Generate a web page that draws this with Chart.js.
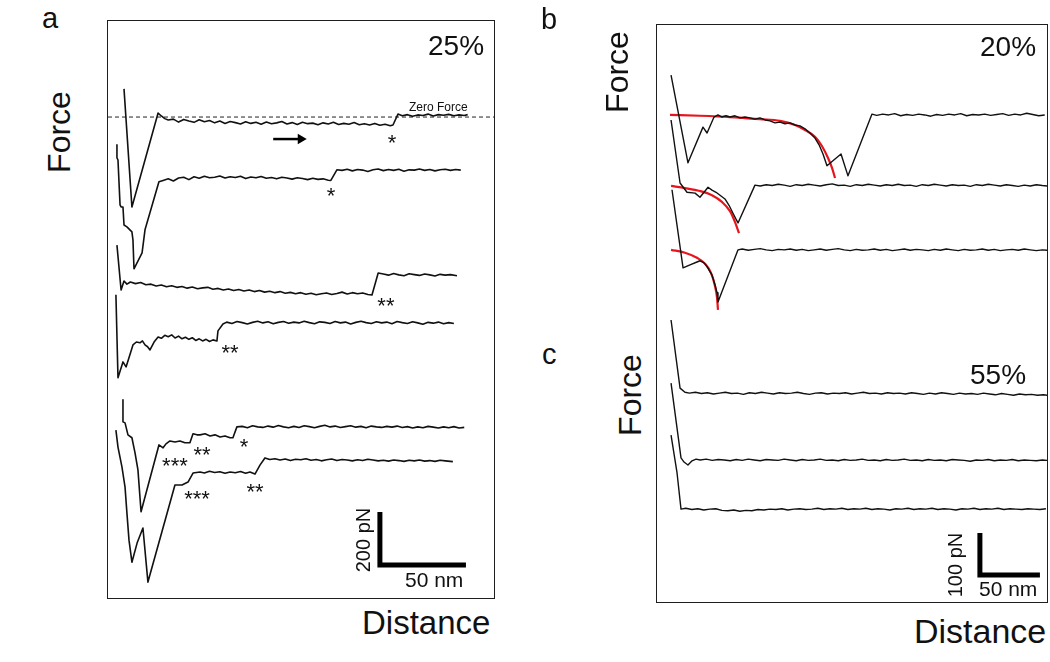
<!DOCTYPE html>
<html>
<head>
<meta charset="utf-8">
<script src="https://cdn.jsdelivr.net/npm/chart.js@4.4.1/dist/chart.umd.min.js"></script>
<style>
  body { margin: 0; background: #fff; font-family: "Liberation Sans", Arial, sans-serif; }
  #page { position: relative; width: 1050px; height: 662px; overflow: hidden; }
  .box { position: absolute; border: 1.5px solid #1e1e1e; }
  .box canvas { display: block; }
  .lbl { position: absolute; line-height: 1; white-space: nowrap; color: #111; }
  .rot { transform: translate(-50%, -50%) rotate(-90deg); }
</style>
</head>
<body>
<div id="page">
  <div class="lbl" style="left:42px;top:4px;font-size:29px">a</div>
  <div class="lbl rot" style="left:59px;top:132px;font-size:32px">Force</div>
  <div class="lbl" style="left:362px;top:606px;font-size:33px">Distance</div>
  <div class="box" style="left:107px;top:20px;width:386px;height:577px">
    <canvas id="chartA" width="386" height="577"></canvas>
  </div>
  <div class="lbl" style="left:428px;top:32px;font-size:28px">25%</div>
  <div class="lbl" style="left:409px;top:101px;font-size:12px">Zero Force</div>
  <div class="lbl rot" style="left:363px;top:540px;font-size:20px">200 pN</div>
  <div class="lbl" style="left:405px;top:569px;font-size:21px">50 nm</div>

  <div class="lbl" style="left:541px;top:5px;font-size:29px">b</div>
  <div class="lbl" style="left:542px;top:340px;font-size:29px">c</div>
  <div class="lbl rot" style="left:617px;top:72px;font-size:32px">Force</div>
  <div class="lbl rot" style="left:630px;top:395px;font-size:32px">Force</div>
  <div class="lbl" style="left:914px;top:614px;font-size:34px">Distance</div>
  <div class="box" style="left:656px;top:24px;width:390px;height:577px">
    <canvas id="chartB" width="390" height="577"></canvas>
  </div>
  <div class="lbl" style="left:980px;top:33px;font-size:28px">20%</div>
  <div class="lbl" style="left:970px;top:361px;font-size:28px">55%</div>
  <div class="lbl rot" style="left:955px;top:565px;font-size:20px">100 pN</div>
  <div class="lbl" style="left:979px;top:578px;font-size:21px">50 nm</div>
</div>
<script>
// force curves, [distance nm, force pN] relative to each curve's own zero

// panel a, 25%
const traceA1 = [[9.3,106],[13.9,-339],[29.1,15],[31,4],[33,-6],[35,-11],
  [38,-8],[41,-19],[44,-9],[47,-15],[50,-20],[53,-10],[56,-18],[59,-13],[62,-22],[65,-15],
  [68,-24],[71,-17],[74,-21],[77,-26],[80,-18],[83,-24],[86,-20],[89,-27],[92,-19],[95,-25],
  [98,-22],[101,-17],[104,-26],[107,-21],[110,-28],[113,-20],[116,-25],[119,-23],[122,-29],[125,-22],
  [128,-26],[131,-20],[134,-28],[137,-24],[140,-27],[143,-21],[146,-29],[149,-25],[152,-30],[155,-24],
  [158,-31],[161,-27],[164,-33],[165.6,-30],[168.5,11],
  [171,5],[174,9],[177,3],[180,8],[183,6],[186,11],[189,4],[192,9],[195,7],[198,10],[201,5],[204,8],[207,6],[209,9]];

const traceA2 = [[5.2,98],[5.2,49],[5.8,41],[7.0,-128],[7.6,-136],[8.7,-136],[9.3,-204],[11.0,-211],[13.9,-230],[14.5,-260],[15.1,-369],[19.8,-309],[21.5,-222],[29.6,-41],
  [32,-36],[35,-30],[38,-38],[41,-27],[44,-24],[47,-33],[50,-22],[53,-28],[56,-20],[59,-26],
  [62,-24],[65,-19],[68,-27],[71,-22],[74,-25],[77,-20],[80,-29],[83,-23],[86,-26],[89,-21],
  [92,-28],[95,-25],[98,-30],[101,-24],[104,-27],[107,-31],[110,-26],[113,-29],[116,-33],[119,-28],
  [122,-32],[125,-30],[128,-35],[129.5,-36],[133,4],
  [136,2],[139,6],[142,0],[145,5],[148,3],[151,-2],[154,4],[157,7],[160,1],[163,5],[166,2],[169,6],
  [172,-1],[175,4],[178,3],[181,7],[184,2],[187,5],[190,0],[193,4],[196,6],[199,2],[202,5],[205,3]];

const traceA3 = [[5.2,109],[7.6,-60],[9.3,-26],[11,-38],
  [13,-30],[16,-36],[19,-32],[22,-40],[25,-38],[28,-45],[31,-41],[34,-48],[37,-44],[40,-50],
  [43,-47],[46,-53],[49,-49],[52,-55],[55,-52],[58,-50],[61,-57],[64,-54],[67,-60],[70,-56],
  [73,-62],[76,-58],[79,-64],[82,-60],[85,-66],[88,-62],[91,-68],[94,-65],[97,-70],[100,-66],
  [103,-72],[106,-69],[109,-74],[112,-70],[115,-76],[118,-72],[121,-78],[124,-74],[127,-71],[130,-77],
  [133,-73],[136,-68],[139,-75],[142,-70],[145,-74],[148,-71],[151,-77],[153.4,-79],[157,4],
  [160,0],[163,-4],[166,2],[169,-3],[172,-6],[175,1],[178,-2],[181,-5],[184,0],[187,-3],[190,-7],
  [193,-1],[196,-4],[199,-2],[202.8,-6]];

const traceA4 = [[4.6,106],[5.8,-207],[8.7,-147],[10.5,-166],[14.5,-83],[16.5,-72],[18.6,-75],[20,-68],
  [21.5,-83],[23,-90],[24.4,-102],[27,-70],[29.1,-53],[31,-58],[33,-47],[35,-52],[37,-45],[39,-57],
  [41,-50],[43,-60],[45,-54],[47,-62],[49,-56],[51,-66],[53,-60],[55,-68],[57,-62],[59,-70],[61,-64],
  [63.3,-68],[63.9,-30],[66.8,-4],
  [69,3],[72,-2],[75,5],[78,1],[81,-4],[84,2],[87,6],[90,0],[93,4],[96,-3],
  [99,2],[102,5],[105,-1],[108,3],[111,0],[114,6],[117,1],[120,-3],[123,4],[126,2],
  [129,-2],[132,5],[135,0],[138,3],[141,-4],[144,2],[147,6],[150,1],[153,-2],[156,4],
  [159,0],[162,3],[165,-3],[168,5],[171,1],[174,-2],[177,4],[180,0],[183,-5],[186,2],
  [189,-1],[192,3],[195,-3],[198,1],[201,-2]];

const traceA5 = [[8.7,102],[8.7,19],[9.9,15],[11.6,-30],[13.9,-41],[15.7,-98],[17.4,-162],[19.2,-320],
  [29.6,-68],[32.0,-79],[33.7,-64],[36.0,-53],[38.9,-57],[41.8,-53],[44.7,-60],[47.6,-60],[49.4,-26],
  [51.7,-30],[53.5,-30],[56.4,-26],[59.3,-34],[62.2,-30],[65.1,-38],[68.0,-34],[70.9,-41],[72.6,-41],[74.9,0],
  [78,2],[81,-3],[84,4],[87,0],[90,-2],[93,3],[96,-1],[99,5],[102,0],[105,-3],
  [108,2],[111,-2],[114,4],[117,1],[120,-3],[123,2],[126,6],[129,0],[132,3],[135,-2],
  [138,1],[141,4],[144,-1],[147,2],[150,-3],[153,3],[156,0],[159,-2],[162,2],[165,-1],
  [168,3],[171,-2],[174,1],[177,-4],[180,0],[183,-3],[186,2],[189,-1],[192,-4],[195,0],
  [198,-3],[201,1],[204,-4],[207,-2]];

const traceA6 = [[4.6,113],[5.8,49],[8.1,-26],[9.9,-102],[11.0,-200],[12.2,-302],[13.9,-385],[16.9,-313],
  [20.3,-256],[23.2,-460],[38.9,-94],[43.0,-94],[46.5,-83],[49.4,-49],[53.5,-45],[56,-49],[59,-42],
  [62,-47],[65,-44],[68,-50],[71,-45],[74,-48],[77,-43],[80,-50],[82.5,-45],[85.4,-53],[88.3,-19],[91.2,8],
  [94,2],[97,5],[100,0],[103,4],[106,-2],[109,3],[112,1],[115,5],[118,-1],[121,2],
  [124,-3],[127,1],[130,4],[133,-2],[136,2],[139,0],[142,-3],[145,1],[148,-2],[151,3],
  [154,0],[157,-3],[160,-1],[163,-4],[166,0],[169,-2],[172,-5],[175,-1],[178,-3],[181,0],
  [184,-4],[187,-2],[190,-5],[193,-1],[196,-3],[200.4,-6]];

// panel b, 20%
const traceB1 = [[11.7,95],[25.8,-114],[38.3,-29],[41.7,-43],[47.5,-5],[50.8,0],[54.1,-5],[57.5,-2],
  [60.8,-5],[65,-2],[69.1,-7],[73.3,-5],[77.5,-7],[81.6,-10],[85.8,-7],[90,-12],[94.1,-14],[98.3,-19],
  [102.5,-17],[106.6,-21],[110.8,-19],[115,-24],[119.1,-26],[123.3,-33],[127.4,-43],[131.6,-55],[135,-71],
  [138.3,-93],[141.6,-121],[153.3,-93],[159.1,-145],[179.1,2],
  [183,-1],[188,2],[193,0],[198,3],[203,-2],[208,1],[213,-1],[218,2],[223,0],[228,-3],
  [233,1],[238,-1],[243,2],[248,0],[253,3],[258,-2],[263,1],[268,0],[273,2],[278,-1],
  [283,1],[288,3],[293,-1],[298,2],[303,0],[308,4],[313,1],[318,-2],[323,0]];
const fitB1 = [[10.8,0],[35.8,-2],[60.8,-5],[85.8,-10],[102.5,-14],[115,-24],[123.3,-36],[131.6,-52],
  [137.4,-74],[142.4,-102],[145.8,-126],[148.3,-150]];

const traceB2 = [[11.7,155],[19.2,5],[25,-17],[31.7,-19],[35.8,-29],[39.2,-17],[42.5,-5],[45.8,-12],
  [49.2,-17],[52.5,-24],[56.6,-33],[60,-48],[63.3,-67],[65.8,-81],[67.5,-90],[81.6,0],
  [86,-2],[91,1],[96,-1],[101,2],[106,0],[111,-3],[116,1],[121,-1],[126,2],[131,0],
  [136,-2],[141,1],[146,3],[151,-1],[156,0],[161,-3],[166,1],[171,-1],[176,2],[181,0],
  [186,-2],[191,1],[196,-1],[201,2],[206,-1],[211,0],[216,-3],[221,1],[226,-1],[231,2],
  [236,0],[241,-2],[246,1],[251,-1],[256,0],[261,-3],[266,1],[271,-1],[276,2],[281,0],
  [286,-2],[291,1],[296,-1],[301,-3],[306,0],[311,-2],[316,1],[321,-1],[325,-2]];
const fitB2 = [[11.7,-2],[23.3,-7],[35.8,-14],[45.8,-24],[54.1,-40],[60.8,-62],[65,-88],[68.3,-114]];

const traceB3 = [[12.5,143],[21.7,-43],[27.5,-36],[33.3,-29],[35.8,-26],[39.2,-31],[41.7,-40],[45.8,-60],
  [48.3,-83],[50,-102],[50.8,-124],[67.5,0],
  [71,2],[76,-1],[81,1],[86,3],[91,0],[96,-2],[101,1],[106,0],[111,2],[116,-1],
  [121,1],[126,-2],[131,0],[136,2],[141,-1],[146,1],[151,3],[156,0],[161,-2],[166,1],
  [171,-1],[176,0],[181,2],[186,-1],[191,1],[196,-2],[201,0],[206,2],[211,-1],[216,1],
  [221,0],[226,-2],[231,1],[236,-1],[241,2],[246,0],[251,-2],[256,1],[261,-1],[266,0],
  [271,2],[276,-1],[281,1],[286,-2],[291,0],[296,1],[301,-1],[306,2],[311,0],[316,-2],[321,0],[325,-1]];
const fitB3 = [[11.7,0],[23.3,-7],[33.3,-19],[40,-33],[45,-55],[48.3,-86],[50,-114],[50.8,-143]];

// panel c, 55%
const traceC1 = [[11.7,174],[19.2,12],[23.3,2],
  [27,0],[32,2],[37,-1],[42,1],[47,-2],[52,0],[57,2],[62,-1],[67,0],[72,-3],
  [77,1],[82,-1],[87,2],[92,0],[97,-2],[102,1],[107,-1],[112,0],[117,2],[122,-1],
  [127,-3],[132,0],[137,1],[142,-2],[147,0],[152,-1],[157,1],[162,-2],[167,0],[172,2],
  [177,-1],[182,0],[187,-2],[192,1],[197,-1],[202,0],[207,-2],[212,1],[217,-1],[222,-3],
  [227,0],[232,-2],[237,1],[242,-1],[247,-3],[252,0],[257,-2],[262,-1],[267,-3],[272,0],
  [277,-2],[282,-4],[287,-1],[292,-3],[297,-5],[302,-2],[307,-4],[312,-3],[317,-5],[322,-4],[325,-5]];

const traceC2 = [[11.7,183],[20,5],[22.5,-5],[25.8,-12],[29.2,-2],[32.5,2],
  [36,0],[41,2],[46,-1],[51,1],[56,0],[61,-2],[66,1],[71,-1],[76,2],[81,0],
  [86,-2],[91,1],[96,0],[101,-1],[106,2],[111,0],[116,-2],[121,1],[126,-1],[131,0],
  [136,2],[141,-1],[146,0],[151,-2],[156,1],[161,-1],[166,0],[171,2],[176,-1],[181,0],
  [186,-2],[191,1],[196,-1],[201,0],[206,2],[211,-1],[216,0],[221,-2],[226,1],[231,-1],
  [236,0],[241,-2],[246,1],[251,0],[256,-1],[261,-3],[266,0],[271,-1],[276,1],[281,-2],
  [286,0],[291,-1],[296,1],[301,-2],[306,0],[311,-1],[316,-2],[321,0],[325,-1]];

const traceC3 = [[11.7,176],[16.7,86],[20,0],
  [24,2],[29,-1],[34,1],[39,-2],[44,0],[49,1],[54,-3],[59,-4],[64,-2],[69,-5],
  [74,-3],[79,-4],[84,-1],[89,-2],[94,0],[99,-1],[104,1],[109,-2],[114,0],[119,1],
  [124,-1],[129,0],[134,2],[139,-1],[144,1],[149,0],[154,2],[159,-1],[164,1],[169,0],
  [174,2],[179,-1],[184,1],[189,0],[194,-2],[199,1],[204,0],[209,2],[214,-1],[219,1],
  [224,0],[229,2],[234,-1],[239,1],[244,0],[249,-2],[254,1],[259,0],[264,2],[269,-1],
  [274,1],[279,0],[284,2],[289,-1],[294,1],[299,0],[304,-1],[309,1],[314,0],[319,-1],[324,1]];

// vertical display offsets (pN) that stack the curves
const offsetsA = [1813, 1610, 1221, 1037, 645, 520];
const offsetsB = [1159, 992, 838];
const offsetsC = [497, 338, 221];

// rupture marks: [distance, plotted pN, label]
const starsA = [[165, 1738, '*'], [129.6, 1538, '*'], [161.5, 1123, '**'], [70.9, 946, '**'],
  [38.9, 520, '***'], [54.6, 562, '**'], [79, 592, '*'], [51.7, 396, '***'], [85.4, 422, '**']];

// scale bars: 200 pN / 50 nm and 100 pN / 50 nm
const barA = [[158, 324], [158, 124], [208, 124]];
const barB = [[269, 164], [269, 64], [319, 64]];
const arrowA = [[96, 1730], [112, 1730]];

const FONT = '"Liberation Sans", Arial, sans-serif';

const pts = (arr, off = 0) => arr.map(([x, y]) => ({ x: x, y: y + off }));

const line = (data, color, width, extra) => Object.assign({
  data: data,
  showLine: true,
  borderColor: color,
  backgroundColor: color,
  borderWidth: width,
  pointRadius: 0,
  borderJoinStyle: 'round',
  fill: false
}, extra || {});

const starPlugin = (items) => ({
  id: 'stars',
  afterDatasetsDraw(chart) {
    const { ctx } = chart;
    const xs = chart.scales.x, ys = chart.scales.y;
    ctx.save();
    ctx.fillStyle = '#111';
    ctx.font = '22px ' + FONT;
    ctx.textAlign = 'center';
    ctx.textBaseline = 'alphabetic';
    items.forEach(([d, f, t]) => {
      ctx.fillText(t, xs.getPixelForValue(d), ys.getPixelForValue(f) + 22 * 0.58);
    });
    ctx.restore();
  }
});

const baseOptions = (xMax, yMax) => ({
  responsive: false,
  animation: false,
  events: [],
  layout: { padding: 0, autoPadding: false },
  elements: { point: { radius: 0 } },
  plugins: { legend: { display: false }, tooltip: { enabled: false } },
  scales: {
    x: { type: 'linear', min: 0, max: xMax, display: false },
    y: { type: 'linear', min: 0, max: yMax, display: false }
  }
});

const tracesA = [traceA1, traceA2, traceA3, traceA4, traceA5, traceA6];
const dsA = tracesA.map((t, i) => line(pts(t, offsetsA[i]), '#111', 1.6));
dsA.push(line([{ x: 0, y: offsetsA[0] }, { x: 224.3, y: offsetsA[0] }], '#222', 1, { borderDash: [4, 3] }));
dsA.push(line(pts(barA), '#000', 5, { borderJoinStyle: 'miter', borderCapStyle: 'butt' }));
dsA.push(line(pts(arrowA), '#000', 2.5, {
  pointRadius: [0, 6], pointStyle: 'triangle', rotation: 90, pointBorderWidth: 0
}));

new Chart(document.getElementById('chartA'), {
  type: 'scatter',
  data: { datasets: dsA },
  options: baseOptions(224.3, 2175),
  plugins: [starPlugin(starsA)]
});

const tracesB = [traceB1, traceB2, traceB3];
const fitsB = [fitB1, fitB2, fitB3];
const tracesC = [traceC1, traceC2, traceC3];
const dsB = [];
tracesB.forEach((t, i) => dsB.push(line(pts(t, offsetsB[i]), '#111', 1.4)));
tracesC.forEach((t, i) => dsB.push(line(pts(t, offsetsC[i]), '#111', 1.4)));
fitsB.forEach((t, i) => dsB.push(line(pts(t, offsetsB[i]), '#e8141c', 2.2, { cubicInterpolationMode: 'monotone' })));
dsB.push(line(pts(barB), '#000', 5, { borderJoinStyle: 'miter', borderCapStyle: 'butt' }));

new Chart(document.getElementById('chartB'), {
  type: 'scatter',
  data: { datasets: dsB },
  options: baseOptions(324.9, 1373)
});
</script>
</body>
</html>
